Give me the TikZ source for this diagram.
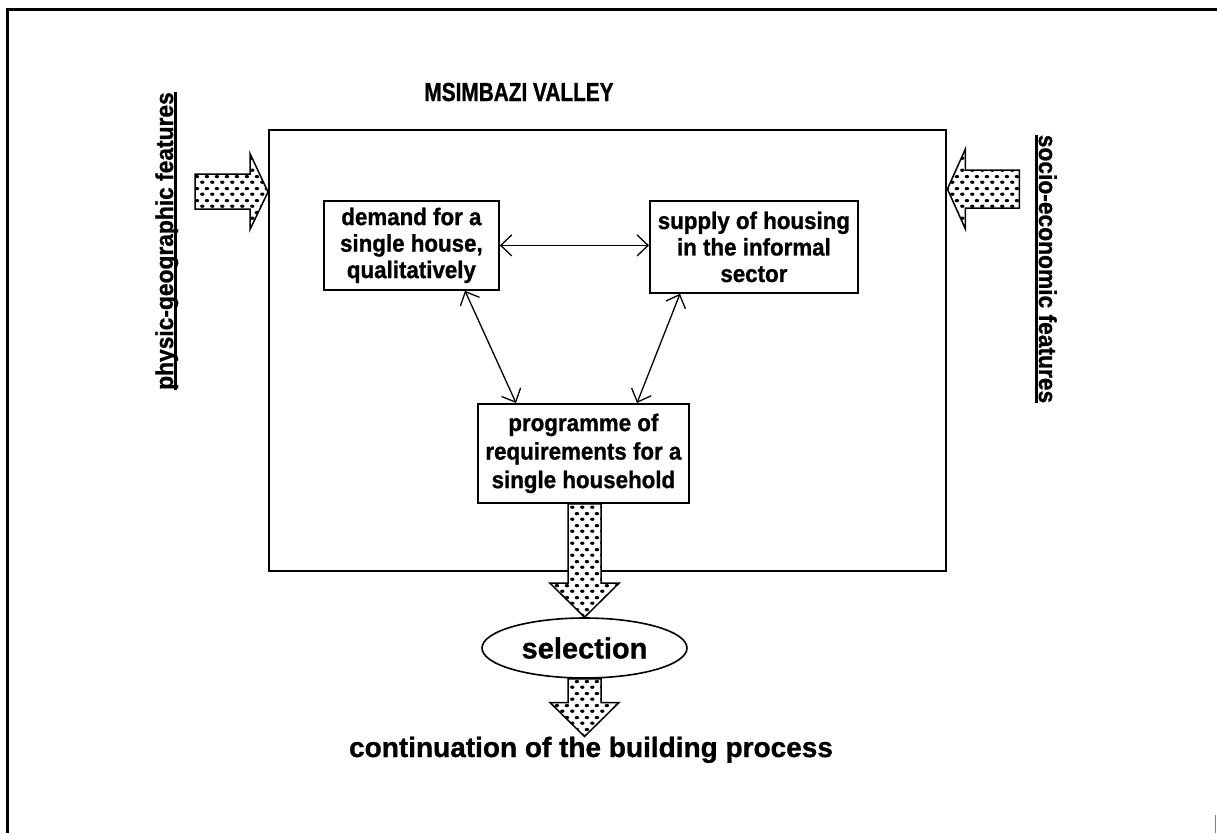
\documentclass[tikz,border=0pt]{standalone}
\usepackage{fontspec}
\setmainfont{Liberation Sans}
% heavy faces: slightly narrow, narrow (heading) and normal width
\newfontfamily\heavy{Liberation Sans}[FakeStretch=0.93,BoldFeatures={FakeBold=1}]
\newfontfamily\narrowheavy{Liberation Sans}[FakeStretch=0.8,BoldFeatures={FakeBold=1}]
\newfontfamily\wideheavy{Liberation Sans}[BoldFeatures={FakeBold=1}]
\usetikzlibrary{shapes.geometric,arrows.meta,calc,patterns.meta}

% staggered dot stipple used inside the broad arrows
\tikzdeclarepattern{
  name=stipple,
  type=uncolored,
  bounding box={(0pt,0pt) and (10pt,12pt)},
  tile size={(10pt,12pt)},
  code={
    \fill (2.5pt,3pt) ellipse (2.4pt and 1.8pt);
    \fill (7.5pt,9pt) ellipse (2.4pt and 1.8pt);
  }
}

% heavy underline for the side captions
\newcommand\thickul[1]{\setbox0\hbox{#1}\rlap{\rule[-4pt]{\wd0}{2.6pt}}\box0}

\begin{document}
\begin{tikzpicture}[x=1pt,y=-1pt,
  plaintext/.style={inner sep=0pt,anchor=base},
  ibox/.style={draw,line width=1.8pt,anchor=north west,inner sep=0pt,align=center,
    font=\heavy\bfseries\fontsize{24}{26.5}\selectfont},
  barb/.tip={Straight Barb[length=11pt,width=21pt]},
  link/.style={line width=1.3pt,barb-barb},
  fat/.style={draw,line width=1.5pt,preaction={fill=white},pattern=stipple,
    pattern color=black,line join=miter},
]
\useasboundingbox (0,0) rectangle (1217,833);

% page frame
\draw[line width=3pt] (7,833) -- (7,9) -- (1217,9);
\draw[gray,line width=1pt] (1215.5,815) -- (1215.5,833);

% valley frame and title
\node[draw,line width=2.4pt,minimum width=677pt,minimum height=441pt,
  anchor=north west,inner sep=0pt] (valley) at (268,129) {};
\node[plaintext,font=\narrowheavy\bfseries\fontsize{26}{30}\selectfont] (title) at (519,101)
  {MSIMBAZI VALLEY};

% side captions
\node[plaintext,rotate=90,font=\heavy\bfseries\fontsize{24.5}{28}\selectfont] (phys) at (173,241)
  {\thickul{physic-geographic features}};
\node[plaintext,rotate=-90,font=\heavy\bfseries\fontsize{24.5}{28}\selectfont] (socio) at (1039,269)
  {\thickul{socio-economic features}};

% the three boxes
\node[ibox,minimum width=175pt,minimum height=89pt] (demand) at (323,200)
  {demand for a\\single house,\\qualitatively};
\node[ibox,minimum width=208pt,minimum height=92pt] (supply) at (649,200)
  {supply of housing\\in the informal\\sector};
\node[ibox,minimum width=211pt,minimum height=99pt,
  font=\heavy\bfseries\fontsize{24}{28.5}\selectfont] (prog) at (477,403)
  {programme of\\requirements for a\\single household};

% selection and outcome
\node[draw,ellipse,line width=1.6pt,minimum width=205pt,minimum height=60pt,inner sep=0pt,
  font=\wideheavy\bfseries\fontsize{29}{32}\selectfont] (sel) at (584.5,648) {selection};
\node[plaintext,font=\wideheavy\bfseries\fontsize{28}{32}\selectfont] (cont) at (591,757)
  {continuation of the building process};

% mutual relations
\draw[link] (demand.east) -- (demand.east -| supply.west);
\draw[link] ([xshift=142pt]demand.south west) -- ([xshift=39pt]prog.north west);
\draw[link] ([xshift=31pt]supply.south west) -- ([xshift=160pt]prog.north west);

% external influences
\coordinate (ltip) at ($(valley.north west)+(0,63)$);
\draw[fat] (ltip) -- ++(-18,-38.5) -- ++(0,20.5) -- ++(-55,0) -- ++(0,35)
  -- ++(55,0) -- ++(0,20.5) -- cycle;
\coordinate (rtip) at ($(valley.north east)+(0,60)$);
\draw[fat] (rtip) -- ++(18,-40) -- ++(0,21) -- ++(54,0) -- ++(0,38)
  -- ++(-54,0) -- ++(0,21) -- cycle;

% flow downwards
\draw[fat] (sel.north) -- ++(-34.5,-34) -- ++(18,0)
  -- ($(prog.south -| sel.north)+(-16.5,0)$) -- ++(33,0)
  -- ($(sel.north)+(16.5,-34)$) -- ++(18,0) -- cycle;
\coordinate (ctip) at (sel.south |- cont.north);
\draw[fat] (ctip) -- ++(-34.5,-34) -- ++(18,0)
  -- ($(sel.south)+(-16.5,0)$) -- ++(33,0)
  -- ($(ctip)+(16.5,-34)$) -- ++(18,0) -- cycle;
\end{tikzpicture}
\end{document}
